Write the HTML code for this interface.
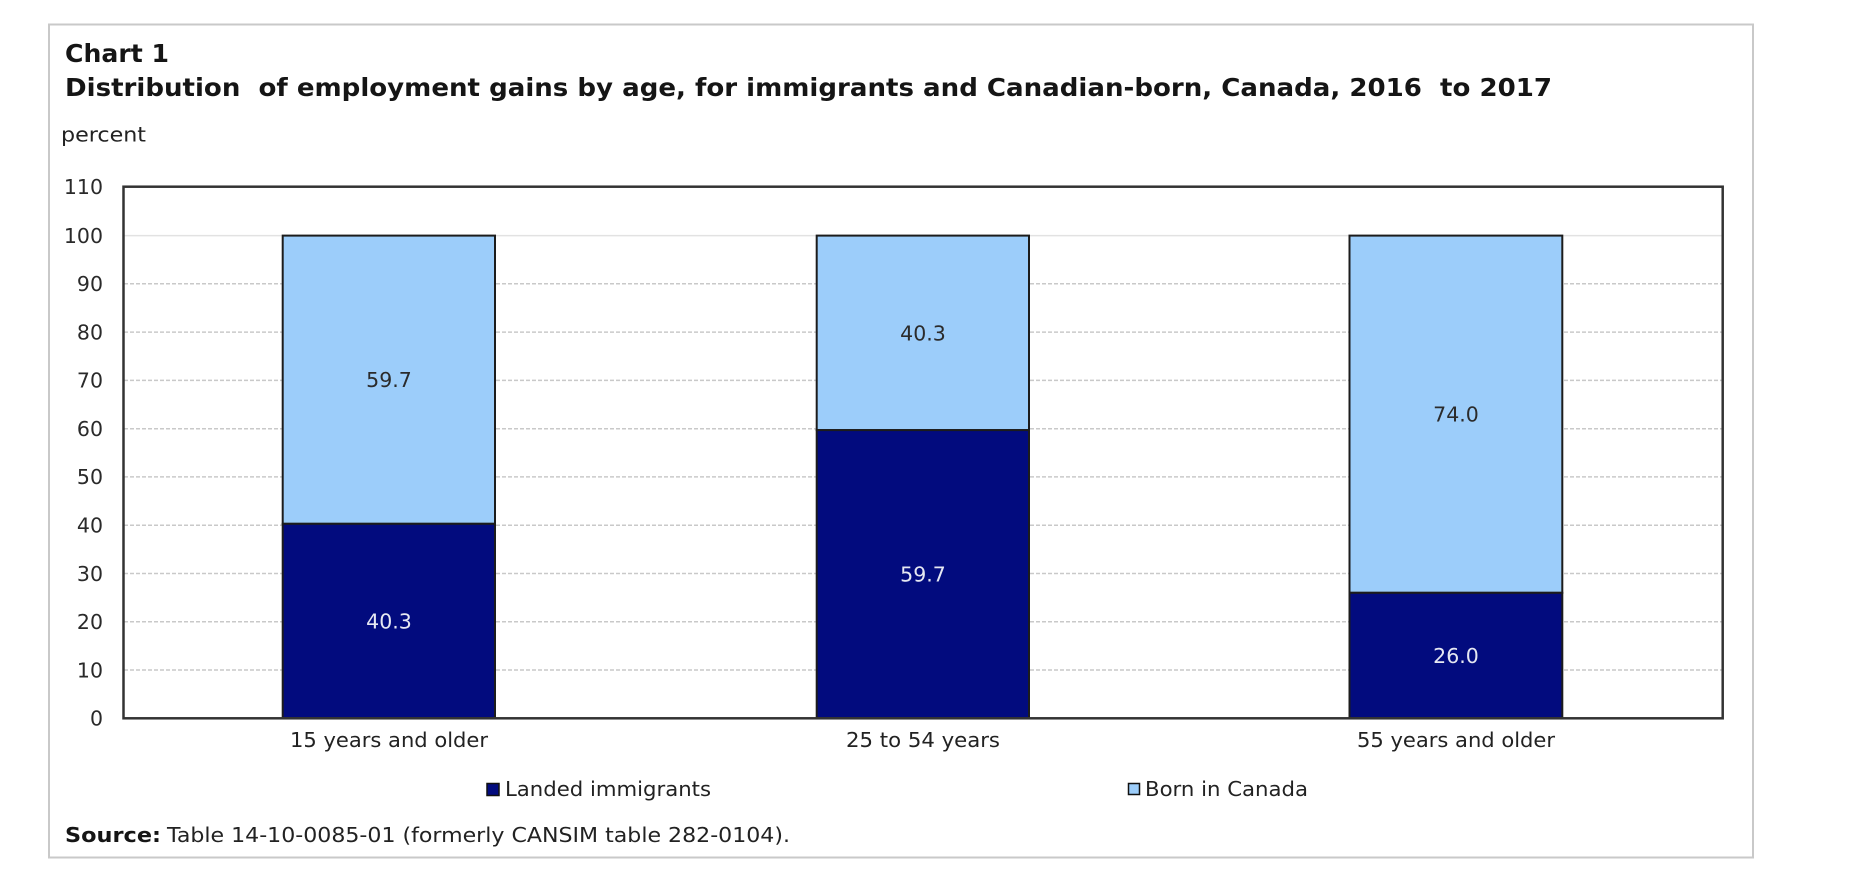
<!DOCTYPE html>
<html>
<head>
<meta charset="utf-8">
<style>
  html, body { margin:0; padding:0; background:#ffffff; }
  body { width:1860px; height:878px; overflow:hidden; }
  svg { display:block; }
  text { font-family: "DejaVu Sans", "Liberation Sans", sans-serif; }
</style>
</head>
<body>
<svg width="1860" height="878" viewBox="0 0 1860 878" xmlns="http://www.w3.org/2000/svg">
  <rect x="0" y="0" width="1860" height="878" fill="#ffffff"/>
  <!-- outer frame -->
  <rect x="49" y="24.5" width="1704" height="833" fill="#ffffff" stroke="#c9c9c9" stroke-width="2"/>

  <!-- titles -->
  <text x="65" y="62" font-size="25" font-weight="bold" fill="#151515" textLength="104" lengthAdjust="spacingAndGlyphs">Chart 1</text>
  <text x="65" y="96" font-size="25" font-weight="bold" fill="#151515" textLength="1487" lengthAdjust="spacingAndGlyphs" xml:space="preserve">Distribution  of employment gains by age, for immigrants and Canadian-born, Canada, 2016  to 2017</text>
  <text x="61" y="141.5" font-size="20" fill="#222" textLength="85" lengthAdjust="spacingAndGlyphs">percent</text>

  <!-- gridlines -->
  <g stroke-width="1.5">
    <line x1="124" y1="235.6" x2="1722" y2="235.6" stroke="#e2e2e2"/>
    <g stroke="#c9c9c9" stroke-dasharray="4,2">
      <line x1="124" y1="283.8" x2="1722" y2="283.8"/>
      <line x1="124" y1="332.1" x2="1722" y2="332.1"/>
      <line x1="124" y1="380.4" x2="1722" y2="380.4"/>
      <line x1="124" y1="428.7" x2="1722" y2="428.7"/>
      <line x1="124" y1="476.9" x2="1722" y2="476.9"/>
      <line x1="124" y1="525.2" x2="1722" y2="525.2"/>
      <line x1="124" y1="573.5" x2="1722" y2="573.5"/>
      <line x1="124" y1="621.8" x2="1722" y2="621.8"/>
      <line x1="124" y1="670.0" x2="1722" y2="670.0"/>
    </g>
  </g>

  <!-- y tick labels -->
  <g font-size="20.5" fill="#2a2a2a" text-anchor="end">
    <text x="103" y="194">110</text>
    <text x="103" y="242.9">100</text>
    <text x="103" y="291.1">90</text>
    <text x="103" y="339.4">80</text>
    <text x="103" y="387.7">70</text>
    <text x="103" y="436">60</text>
    <text x="103" y="484.2">50</text>
    <text x="103" y="532.5">40</text>
    <text x="103" y="580.8">30</text>
    <text x="103" y="629.1">20</text>
    <text x="103" y="677.3">10</text>
    <text x="103" y="725.6">0</text>
  </g>

  <!-- bars -->
  <g stroke="#1c1c1c" stroke-width="2">
    <!-- 15 years and older: 40.3 / 59.7 -->
    <rect x="282.7" y="235.6" width="212.3" height="288.2" fill="#9ccdfa"/>
    <rect x="282.7" y="523.8" width="212.3" height="194.5" fill="#020b7e"/>
    <!-- 25 to 54: 59.7 / 40.3 -->
    <rect x="816.7" y="235.6" width="212.3" height="194.5" fill="#9ccdfa"/>
    <rect x="816.7" y="430.1" width="212.3" height="288.2" fill="#020b7e"/>
    <!-- 55 and older: 26.0 / 74.0 -->
    <rect x="1349.5" y="235.6" width="212.8" height="357.2" fill="#9ccdfa"/>
    <rect x="1349.5" y="592.8" width="212.8" height="125.5" fill="#020b7e"/>
  </g>

  <!-- plot frame -->
  <rect x="123.5" y="186.7" width="1599.2" height="531.6" fill="none" stroke="#333333" stroke-width="2.5"/>

  <!-- value labels -->
  <g font-size="20.5" text-anchor="middle">
    <text x="389" y="387.2" fill="#2b2b2b">59.7</text>
    <text x="389" y="628.5" fill="#e6e8f2">40.3</text>
    <text x="923" y="340.3" fill="#2b2b2b">40.3</text>
    <text x="923" y="581.7" fill="#e6e8f2">59.7</text>
    <text x="1456" y="421.7" fill="#2b2b2b">74.0</text>
    <text x="1456" y="663" fill="#e6e8f2">26.0</text>
  </g>

  <!-- category labels -->
  <g font-size="20.5" fill="#222" text-anchor="middle">
    <text x="389" y="747" textLength="198" lengthAdjust="spacingAndGlyphs">15 years and older</text>
    <text x="923" y="747" textLength="154" lengthAdjust="spacingAndGlyphs">25 to 54 years</text>
    <text x="1456" y="747" textLength="198" lengthAdjust="spacingAndGlyphs">55 years and older</text>
  </g>

  <!-- legend -->
  <rect x="487" y="783.5" width="12" height="12" fill="#020b7e" stroke="#111" stroke-width="1.5"/>
  <text x="505" y="796" font-size="20.5" fill="#222" textLength="206" lengthAdjust="spacingAndGlyphs">Landed immigrants</text>
  <rect x="1128.5" y="783.5" width="11" height="11" fill="#9ccdfa" stroke="#111" stroke-width="1.5"/>
  <text x="1145" y="796" font-size="20.5" fill="#222" textLength="163" lengthAdjust="spacingAndGlyphs">Born in Canada</text>

  <!-- source -->
  <text x="65" y="842" font-size="20.5" font-weight="bold" fill="#151515" textLength="96" lengthAdjust="spacingAndGlyphs">Source:</text>
  <text x="167" y="842" font-size="20.5" fill="#222" textLength="623" lengthAdjust="spacingAndGlyphs">Table 14-10-0085-01 (formerly CANSIM table 282-0104).</text>
</svg>
</body>
</html>
